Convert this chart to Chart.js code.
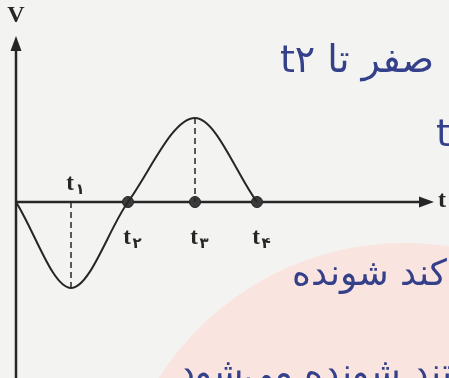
<!DOCTYPE html>
<html lang="fa">
<head>
    <meta charset="UTF-8">
    <title>V-t</title>
    <style>
        body { margin: 0; background: #f3f3f1; }
        canvas { display: block; }
    </style>
</head>
<body>
<canvas id="chartCanvas" width="449" height="378"></canvas>

<script src="https://cdn.jsdelivr.net/npm/chart.js"></script>
<script>
    // points: start, t1 (minimum), t2, t3 (maximum), t4
    const times = [0, 55, 112, 179, 241];
    const volts = [0, -86, 0, 84, 0];
    const markNames = ['t', 't', 't', 't'];
    const markDigits = ['۱', '۲', '۳', '۴'];
    const notes = ['صفر تا t۲', 't', 'کند شونده', 'تند شونده می‌شود'];

    const ink = '#262626';
    const pen = '#34408a';

    const curve = times.map((t, i) => ({x: t, y: volts[i]}));
    // the dots sit on the time axis at t2, t3, t4
    const dots = [2, 3, 4].map(i => ({x: times[i], y: 0}));
    const drop1 = [{x: times[1], y: 0}, {x: times[1], y: volts[1]}];
    const drop3 = [{x: times[3], y: volts[3]}, {x: times[3], y: 0}];

    // paper, axes with arrows, labels and the handwritten notes
    const sketch = {
        id: 'sketch',
        beforeDraw(chart) {
            const c = chart.ctx;
            c.save();
            c.fillStyle = '#f3f3f1';
            c.fillRect(0, 0, chart.width, chart.height);
            c.fillStyle = '#f9e4df';
            c.beginPath();
            c.arc(405, 535, 292, 0, Math.PI * 2);
            c.fill();
            c.restore();
        },
        beforeDatasetsDraw(chart) {
            const c = chart.ctx, xs = chart.scales.x, ys = chart.scales.y;
            const x0 = xs.getPixelForValue(0), y0 = ys.getPixelForValue(0);
            const area = chart.chartArea;
            c.save();
            c.strokeStyle = ink;
            c.fillStyle = ink;
            c.lineWidth = 2.5;
            c.beginPath();
            c.moveTo(x0, chart.height);
            c.lineTo(x0, area.top + 10);
            c.moveTo(x0, y0);
            c.lineTo(area.right - 10, y0);
            c.stroke();
            c.beginPath();
            c.moveTo(x0, area.top);
            c.lineTo(x0 - 5.5, area.top + 15);
            c.lineTo(x0 + 5.5, area.top + 15);
            c.closePath();
            c.fill();
            c.beginPath();
            c.moveTo(area.right, y0);
            c.lineTo(area.right - 15, y0 - 5.5);
            c.lineTo(area.right - 15, y0 + 5.5);
            c.closePath();
            c.fill();
            c.restore();
        },
        afterDraw(chart) {
            const c = chart.ctx, xs = chart.scales.x, ys = chart.scales.y;
            const x0 = xs.getPixelForValue(0), y0 = ys.getPixelForValue(0);
            c.save();
            c.fillStyle = ink;
            c.textBaseline = 'middle';
            c.textAlign = 'center';
            c.font = 'bold 24px "Liberation Serif"';
            c.fillText('V', x0, 16);
            c.textAlign = 'left';
            c.fillText('t', chart.chartArea.right + 4, y0 - 1);

            markNames.forEach((name, i) => {
                const px = xs.getPixelForValue(times[i + 1]);
                const py = i === 0 ? y0 - 18 : y0 + 36;
                c.textAlign = 'center';
                c.font = 'bold 23px "Liberation Serif"';
                c.fillText(name, px - 1, py);
                c.font = 'bold 15px "DejaVu Sans"';
                c.fillText(markDigits[i], px + 9, py + 6);
            });

            c.fillStyle = pen;
            c.font = '38px "DejaVu Sans"';
            c.textAlign = 'left';
            c.fillText(notes[1], 436, 136);
            c.direction = 'rtl';
            c.textAlign = 'right';
            c.fillText(notes[0], 434, 62);
            c.font = '36px "DejaVu Sans"';
            c.fillText(notes[2], 447, 276);
            c.fillText(notes[3], 452, 375);
            c.restore();
        }
    };

    const ctx = document.getElementById('chartCanvas').getContext('2d');
    new Chart(ctx, {
        type: 'line',
        data: {
            datasets: [
                {data: curve, borderColor: ink, borderWidth: 2, pointRadius: 0,
                 cubicInterpolationMode: 'monotone', fill: false},
                {data: drop1, borderColor: ink, borderWidth: 1.5, borderDash: [6, 4], pointRadius: 0},
                {data: drop3, borderColor: ink, borderWidth: 1.5, borderDash: [6, 4], pointRadius: 0},
                {data: dots, showLine: false, pointRadius: 5.5, pointBackgroundColor: '#3b3b3b',
                 pointBorderColor: ink, pointBorderWidth: 1}
            ]
        },
        options: {
            responsive: false,
            animation: false,
            layout: {autoPadding: false, padding: {left: 16, right: 15, top: 36, bottom: 0}},
            plugins: {legend: {display: false}, tooltip: {enabled: false}},
            scales: {
                x: {type: 'linear', display: false, min: 0, max: 418},
                y: {display: false, min: -176, max: 166}
            }
        },
        plugins: [sketch]
    });
</script>

</body>
</html>
